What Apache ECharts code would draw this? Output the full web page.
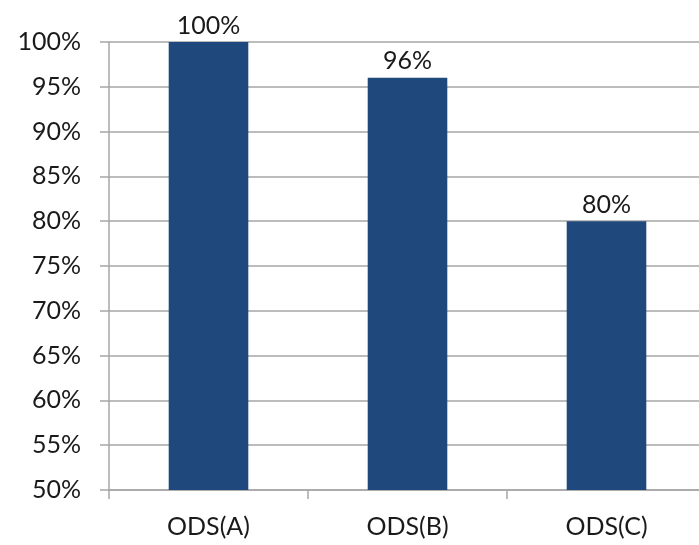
<!DOCTYPE html>
<html>
<head>
<meta charset="utf-8">
<script src="https://cdn.jsdelivr.net/npm/echarts@6/dist/echarts.min.js"></script>
<style>html,body{margin:0;padding:0;background:#fff;overflow:hidden;}#c{width:706px;height:545px;}</style>
</head>
<body>
<div id="c"></div>
<script>
const categories = ['ODS(A)', 'ODS(B)', 'ODS(C)'];
const values = [100, 96, 80];
const yMin = 50, yMax = 100, yStep = 5;

const chart = echarts.init(document.getElementById('c'));
const font = 'Lato, "Open Sans", sans-serif';
chart.setOption({
  animation: false,
  grid: { left: 109, top: 42, bottom: 55, right: 0 },
  xAxis: {
    type: 'category',
    data: categories,
    axisLine: { show: true, lineStyle: { color: '#a6a6a6', width: 1.5 } },
    axisTick: { show: true, length: 9, lineStyle: { color: '#a6a6a6', width: 1.5 } },
    axisLabel: { margin: 24, fontSize: 25, color: '#1a1a1a', fontFamily: font }
  },
  yAxis: {
    type: 'value',
    min: yMin, max: yMax, interval: yStep,
    axisLine: { show: true, lineStyle: { color: '#a6a6a6', width: 1.5 } },
    axisTick: { show: true, length: 9, lineStyle: { color: '#a6a6a6', width: 1.5 } },
    splitLine: { show: true, lineStyle: { color: '#a6a6a6', width: 1.5 } },
    axisLabel: { margin: 28, fontSize: 25, color: '#1a1a1a', fontFamily: font, formatter: '{value}%' }
  },
  series: [{
    type: 'bar',
    data: values,
    barWidth: '40%',
    itemStyle: { color: '#1f497d' },
    label: { show: true, position: 'top', distance: 4, fontSize: 25, color: '#1a1a1a', fontFamily: font, formatter: '{c}%' }
  }]
});
</script>
</body>
</html>
